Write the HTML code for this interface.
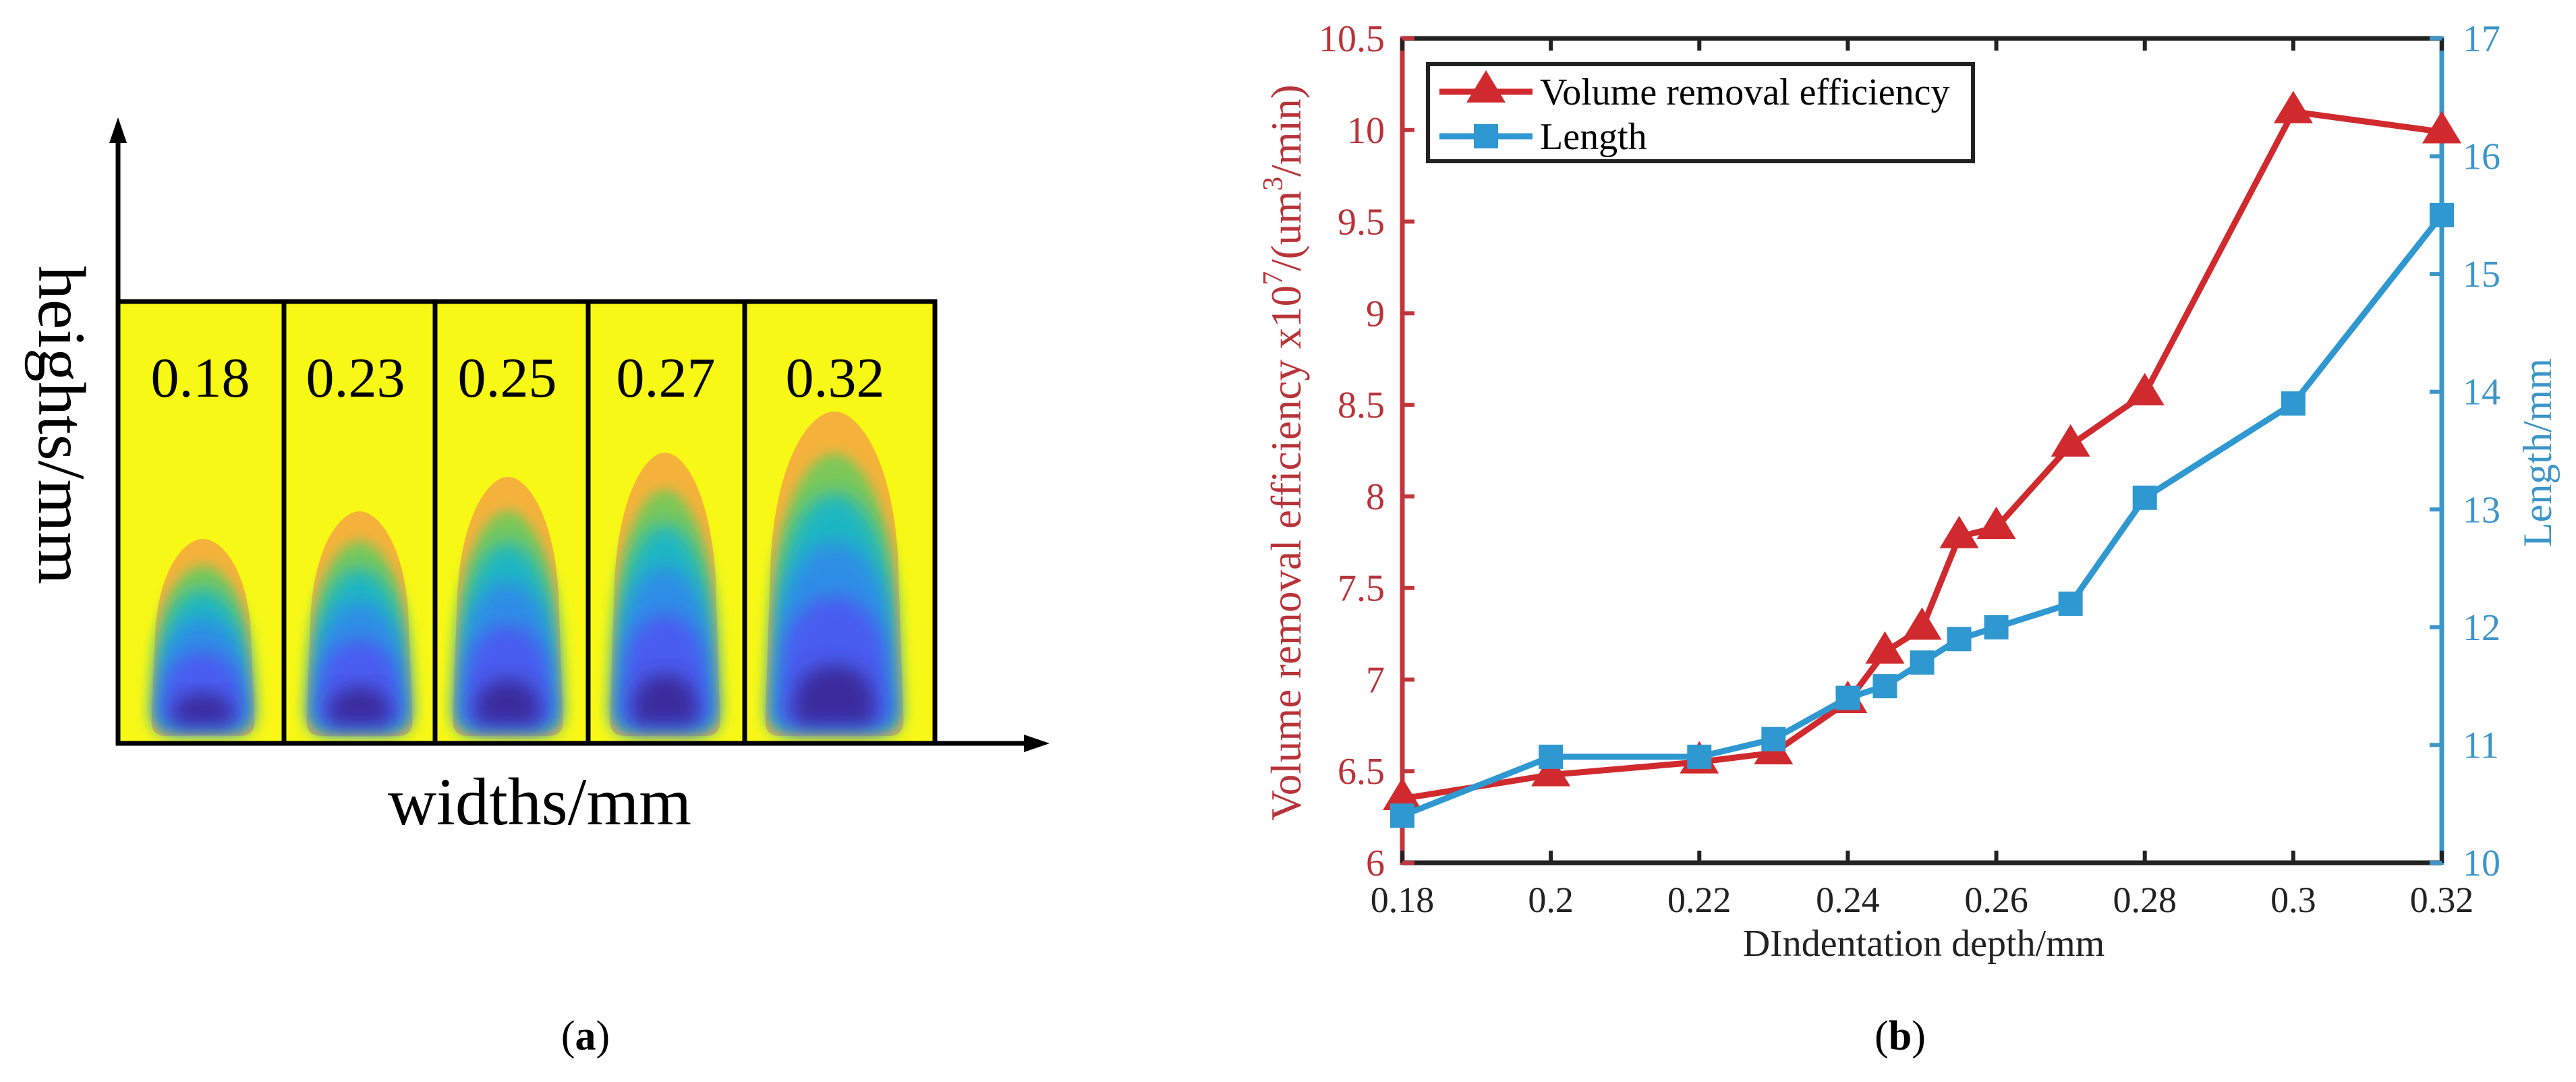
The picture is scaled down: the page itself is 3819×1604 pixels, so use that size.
<!DOCTYPE html>
<html>
<head>
<meta charset="utf-8">
<style>
  html,body{margin:0;padding:0;background:#fff;}
  svg{display:block;}
  text{font-family:"Liberation Serif","DejaVu Serif",serif;}
</style>
</head>
<body>
<svg id="fig" width="3819" height="1604" viewBox="0 0 3819 1604" xmlns="http://www.w3.org/2000/svg">
  <defs>
    <filter id="blur1" x="-30%" y="-30%" width="160%" height="160%"><feGaussianBlur stdDeviation="9"/></filter>
    <filter id="blur2" x="-30%" y="-30%" width="160%" height="160%"><feGaussianBlur stdDeviation="14"/></filter>
    <clipPath id="clipA"><rect x="175" y="447" width="1211" height="655"/></clipPath>
  </defs>

  <!-- Panel (a) -->
  <g id="panelA">
    <rect x="175" y="447" width="1211" height="655" fill="#f8f816"/>
    <g id="blobs" clip-path="url(#clipA)"></g>
    <g stroke="#000" stroke-width="7" fill="none">
      <rect x="175" y="447" width="1211" height="655"/>
      <line x1="421" y1="447" x2="421" y2="1102"/>
      <line x1="645" y1="447" x2="645" y2="1102"/>
      <line x1="872" y1="447" x2="872" y2="1102"/>
      <line x1="1104" y1="447" x2="1104" y2="1102"/>
    </g>
    <g font-size="84" text-anchor="middle" fill="#000">
      <text x="297" y="588">0.18</text>
      <text x="527" y="588">0.23</text>
      <text x="752" y="588">0.25</text>
      <text x="987" y="588">0.27</text>
      <text x="1238" y="588">0.32</text>
    </g>
    <line x1="175" y1="1102" x2="175" y2="200" stroke="#000" stroke-width="7"/>
    <polygon points="175,174 162,212 188,212" fill="#000"/>
    <line x1="175" y1="1102" x2="1530" y2="1102" stroke="#000" stroke-width="7"/>
    <polygon points="1556,1102 1518,1089 1518,1115" fill="#000"/>
    <text x="800" y="1222" font-size="100" text-anchor="middle">widths/mm</text>
    <text transform="translate(58,630) rotate(90)" font-size="100" text-anchor="middle">heights/mm</text>
    <text x="868" y="1556" font-size="62" text-anchor="middle">(<tspan font-weight="bold">a</tspan>)</text>
  </g>

  <!-- Panel (b) -->
  <g id="panelB">
    <g id="axesB"></g>
    <g id="seriesB"></g>
    <g>
      <rect x="2117" y="95" width="808" height="144" fill="#fff" stroke="#222" stroke-width="6"/>
      <line x1="2134" y1="136" x2="2272" y2="136" stroke="#d02a2e" stroke-width="9"/>
      <polygon points="2203,104 2174,152 2232,152" fill="#d02a2e"/>
      <text x="2283" y="155" font-size="56">Volume removal efficiency</text>
      <line x1="2134" y1="202" x2="2272" y2="202" stroke="#2f98d0" stroke-width="9"/>
      <rect x="2185" y="184" width="36" height="36" fill="#2f98d0"/>
      <text x="2283" y="221" font-size="56">Length</text>
    </g>
    <text x="2852" y="1417" font-size="56" text-anchor="middle" fill="#222">DIndentation depth/mm</text>
    <text transform="translate(1928,671) rotate(-90)" font-size="63" text-anchor="middle" fill="#b8343a">Volume removal efficiency x10<tspan font-size="42" dy="-27">7</tspan><tspan dy="27">/(um</tspan><tspan font-size="42" dy="-27">3</tspan><tspan dy="27">/min)</tspan></text>
    <text transform="translate(3782,671) rotate(-90)" font-size="60" text-anchor="middle" fill="#3d95c8">Length/mm</text>
    <text x="2817" y="1556" font-size="62" text-anchor="middle">(<tspan font-weight="bold">b</tspan>)</text>
  </g>
</svg>
<script>
const xValues = [0.18, 0.2, 0.22, 0.23, 0.24, 0.245, 0.25, 0.255, 0.26, 0.27, 0.28, 0.3, 0.32];
const volumeValues = [6.35, 6.48, 6.55, 6.6, 6.88, 7.15, 7.28, 7.78, 7.83, 8.28, 8.56, 10.1, 9.99];
const lengthValues = [10.4, 10.9, 10.9, 11.05, 11.4, 11.5, 11.7, 11.9, 12.0, 12.2, 13.1, 13.9, 15.5];
const xTicks = [0.18, 0.2, 0.22, 0.24, 0.26, 0.28, 0.3, 0.32];
const xTickLabels = ["0.18", "0.2", "0.22", "0.24", "0.26", "0.28", "0.3", "0.32"];
const yLeftTicks = [6, 6.5, 7, 7.5, 8, 8.5, 9, 9.5, 10, 10.5];
const yLeftLabels = ["6", "6.5", "7", "7.5", "8", "8.5", "9", "9.5", "10", "10.5"];
const yRightTicks = [10, 11, 12, 13, 14, 15, 16, 17];
const yRightLabels = ["10", "11", "12", "13", "14", "15", "16", "17"];

const blobWidths = [153, 157, 163, 163, 205];
const blobTops = [799, 758, 707, 671, 610];
const blobCenters = [301, 533, 753, 986, 1237];

const NS = "http://www.w3.org/2000/svg";
function mk(tag, attrs, parent) {
  const el = document.createElementNS(NS, tag);
  for (const k in attrs) el.setAttribute(k, attrs[k]);
  parent.appendChild(el);
  return el;
}

// Panel a blobs
const blobG = document.getElementById("blobs");
function bullet(cx, w, top, bottom) {
  const x0 = cx - w / 2, x1 = cx + w / 2;
  const r = Math.min(22, w * 0.18);
  const h = bottom - top;
  const shoulder = bottom - h * 0.55;
  return `M${x0},${bottom - r} Q${x0},${bottom} ${x0 + r},${bottom} L${x1 - r},${bottom} Q${x1},${bottom} ${x1},${bottom - r} ` +
    `L${x1 - w * 0.04},${shoulder} C${x1 - w * 0.08},${top + h * 0.15} ${cx + w * 0.18},${top} ${cx},${top} ` +
    `C${cx - w * 0.18},${top} ${x0 + w * 0.08},${top + h * 0.15} ${x0 + w * 0.04},${shoulder} Z`;
}
const layers = [
  { c: "#f5b23a", ws: 1.0, ts: 0.0, f: "blur1" },
  { c: "#7cc858", ws: 0.92, ts: 0.13, f: "blur1" },
  { c: "#1fb7c2", ws: 0.9, ts: 0.25, f: "blur2" },
  { c: "#2f8ee6", ws: 0.88, ts: 0.4, f: "blur2" },
  { c: "#4a5cf0", ws: 0.82, ts: 0.57, f: "blur2" },
  { c: "#3a2c9c", ws: 0.6, ts: 0.78, f: "blur2" }
];
for (let i = 0; i < blobWidths.length; i++) {
  const g = mk("g", {}, blobG);
  
  
  const bottom = 1091, top = blobTops[i], h = bottom - top;
  layers.forEach((L, j) => {
    const w = blobWidths[i] * L.ws;
    const t = top + h * L.ts;
    const b = j === 0 ? bottom : bottom - 6 - j * 2;
    const p = mk("path", { d: bullet(blobCenters[i], w, t, b), fill: L.c, filter: j === 0 ? "" : "url(#" + L.f + ")" }, g);
    
    
  });
}

// Panel b chart
const L = 2079, R = 3620, T = 57, B = 1279;
const sx = v => L + (v - 0.18) / 0.14 * (R - L);
const syL = v => B - (v - 6) / 4.5 * (B - T);
const syR = v => B - (v - 10) / 7 * (B - T);
const axes = document.getElementById("axesB");
const ser = document.getElementById("seriesB");

let e;
e = mk("line", { x1: L, y1: T, x2: R, y2: T, stroke: "#222", "stroke-width": 7 }, axes);
 
e = mk("line", { x1: L, y1: B, x2: R, y2: B, stroke: "#222", "stroke-width": 7 }, axes);
 
e = mk("line", { x1: L, y1: T - 3, x2: L, y2: B + 3, stroke: "#c0363c", "stroke-width": 7 }, axes);
 
e = mk("line", { x1: R, y1: T - 3, x2: R, y2: B + 3, stroke: "#3d95c8", "stroke-width": 7 }, axes);
 

xTicks.forEach((v, i) => {
  const x = sx(v);
  let t = mk("line", { x1: x, y1: B, x2: x, y2: B - 18, stroke: "#222", "stroke-width": 6 }, axes);
  
  
  t = mk("line", { x1: x, y1: T, x2: x, y2: T + 18, stroke: "#222", "stroke-width": 6 }, axes);
  
  
  const lab = mk("text", { x: x, y: 1352, "font-size": 54, "text-anchor": "middle", fill: "#222" }, axes);
  lab.textContent = xTickLabels[i];
  
  
});
yLeftTicks.forEach((v, i) => {
  const y = syL(v);
  const t = mk("line", { x1: L, y1: y, x2: L + 18, y2: y, stroke: "#c0363c", "stroke-width": 6 }, axes);
  
  
  const lab = mk("text", { x: 2053, y: y + 19, "font-size": 56, "text-anchor": "end", fill: "#b8343a" }, axes);
  lab.textContent = yLeftLabels[i];
  
  
});
yRightTicks.forEach((v, i) => {
  const y = syR(v);
  const t = mk("line", { x1: R, y1: y, x2: R - 18, y2: y, stroke: "#3d95c8", "stroke-width": 6 }, axes);
  
  
  const lab = mk("text", { x: 3651, y: y + 19, "font-size": 56, "text-anchor": "start", fill: "#3d95c8" }, axes);
  lab.textContent = yRightLabels[i];
  
  
});

const volPts = xValues.map((x, i) => sx(x) + "," + syL(volumeValues[i])).join(" ");
const volLine = mk("polyline", { points: volPts, fill: "none", stroke: "#d02a2e", "stroke-width": 9, "stroke-linejoin": "round" }, ser);


xValues.forEach((x, i) => {
  const cx = sx(x), cy = syL(volumeValues[i]);
  const m = mk("polygon", { points: `${cx},${cy - 31} ${cx - 29},${cy + 17} ${cx + 29},${cy + 17}`, fill: "#d02a2e" }, ser);
  
  
});
const lenPts = xValues.map((x, i) => sx(x) + "," + syR(lengthValues[i])).join(" ");
const lenLine = mk("polyline", { points: lenPts, fill: "none", stroke: "#2f98d0", "stroke-width": 9, "stroke-linejoin": "round" }, ser);


xValues.forEach((x, i) => {
  const cx = sx(x), cy = syR(lengthValues[i]);
  const m = mk("rect", { x: cx - 18, y: cy - 18, width: 36, height: 36, fill: "#2f98d0" }, ser);
  
  
});
</script>
</body>
</html>
